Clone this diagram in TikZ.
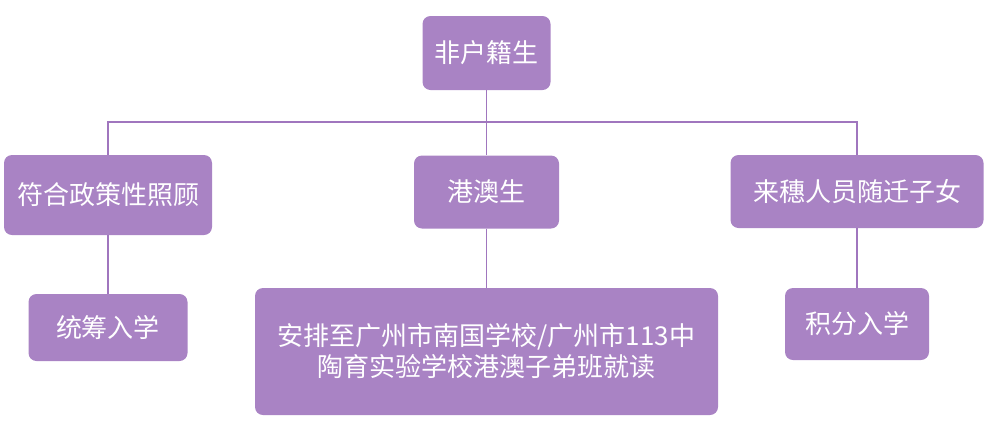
\documentclass[tikz,border=0pt]{standalone}
\usepackage{fontspec}
\newfontfamily\cjk{Noto Sans CJK SC}
\definecolor{boxpurple}{RGB}{169, 131, 196}
\definecolor{linepurple}{RGB}{160, 118, 190}
\usetikzlibrary{positioning}

\begin{document}
\begin{tikzpicture}[x=1pt, y=-1pt,
  pbox/.style={fill=boxpurple, rounded corners=8pt, align=center, text=white, inner sep=0pt, font=\cjk\fontsize{26}{31}\selectfont},
  link/.style={draw=linepurple, line width=1.6pt}
]
  \useasboundingbox (0,0) rectangle (986,437);
  \node[pbox, minimum width=128pt, minimum height=74pt] (root) at (486.5, 53) {非户籍生};
  \node[pbox, minimum width=208pt, minimum height=80pt] (policy) at (108, 195) {符合政策性照顾};
  \node[pbox, minimum width=145pt, minimum height=73pt] (hkmo) at (486.5, 192) {港澳生};
  \node[pbox, minimum width=253pt, minimum height=73pt] (migrant) at (857, 191.5) {来穗人员随迁子女};
  \node[pbox, minimum width=159pt, minimum height=67pt] (unified) at (108, 327.5) {统筹入学};
  \node[pbox, minimum width=463pt, minimum height=127pt] (school) at (486.5, 351.5) {安排至广州市南国学校/广州市113中\\陶育实验学校港澳子弟班就读};
  \node[pbox, minimum width=144pt, minimum height=72pt] (points) at (857, 324) {积分入学};
  \coordinate (bar) at (486.5, 122);
  % branches
  \draw[link] (root.south) -- (hkmo.north);
  \draw[link] (policy.north) -- (policy.north |- bar) -| (migrant.north);
  \draw[link] (policy.south) -- (unified.north);
  \draw[link] (hkmo.south) -- (school.north);
  \draw[link] (migrant.south) -- (points.north);
\end{tikzpicture}
\end{document}
